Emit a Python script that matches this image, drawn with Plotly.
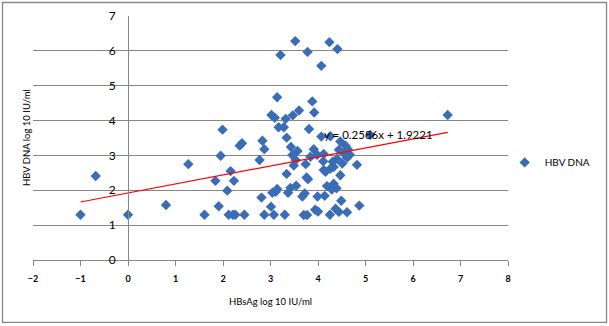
import plotly.graph_objects as go

# HBsAg (log10 IU/ml) vs HBV DNA (log10 IU/ml) per patient
hbsag = [
    -1.00, -0.68, 0.00, 0.80, 1.27, 1.61, 1.84, 1.95, 1.91, 2.09,
    2.16, 2.23, 2.12, 2.21, 2.26, 2.45, 1.99, 2.35, 2.40, 2.83,
    2.87, 2.77, 2.81, 2.87, 3.01, 3.04, 3.11, 3.14, 3.07, 3.30,
    3.34, 3.37, 3.42, 3.21, 3.14, 3.02, 3.09, 3.32, 3.17, 3.28,
    3.34, 3.43, 3.52, 3.78, 4.24, 4.41, 4.07, 3.88, 3.92, 3.60,
    3.47, 3.81, 6.73, 5.10, 3.57, 3.46, 3.49, 3.53, 3.91, 4.07,
    4.26, 4.47, 4.58, 4.63, 4.61, 4.67, 4.82, 4.54, 4.44, 4.40,
    4.51, 4.31, 4.26, 4.33, 4.11, 4.12, 4.16, 3.98, 4.12, 3.84,
    3.74, 3.76, 3.79, 3.54, 3.67, 3.72, 3.99, 4.14, 4.19, 4.33,
    4.39, 4.29, 4.47, 4.49, 4.87, 3.70, 3.77, 3.94, 4.00, 4.25,
    4.37, 4.44, 4.61,
]
hbv_dna = [
    1.30, 2.41, 1.30, 1.58, 2.75, 1.30, 2.27, 2.99, 1.54, 1.99,
    2.55, 2.27, 1.30, 1.30, 1.30, 1.30, 3.74, 3.28, 3.35, 3.42,
    3.18, 2.87, 1.79, 1.30, 1.53, 1.93, 1.96, 2.04, 1.30, 1.30,
    2.47, 1.93, 2.07, 5.88, 4.67, 4.16, 4.08, 4.05, 3.81, 3.81,
    3.51, 3.24, 6.28, 5.97, 6.25, 6.05, 5.57, 4.55, 4.23, 4.29,
    4.15, 3.76, 4.16, 3.59, 3.13, 3.01, 2.71, 2.87, 3.18, 3.54,
    3.55, 3.40, 3.28, 3.18, 2.93, 3.02, 2.73, 3.06, 3.16, 2.90,
    2.77, 2.82, 2.62, 2.67, 2.83, 2.58, 2.53, 3.02, 3.04, 2.96,
    2.75, 2.37, 2.32, 2.13, 1.82, 1.91, 1.82, 1.84, 2.12, 2.19,
    2.06, 2.02, 2.43, 1.70, 1.56, 1.29, 1.29, 1.44, 1.39, 1.30,
    1.47, 1.38, 1.37,
]

# Linear trendline fitted to the series
slope = 0.2586
intercept = 1.9221
trend_x = [min(hbsag), max(hbsag)]
trend_y = [slope * v + intercept for v in trend_x]

x_ticks = list(range(-2, 9))
y_ticks = list(range(0, 8))

grid = "#868686"
blue = "#3A6DB5"
font = "Lato"

fig = go.Figure()
fig.add_trace(go.Scatter(
    x=hbsag, y=hbv_dna, mode="markers", name="HBV DNA",
    marker=dict(symbol="diamond", size=8, color=blue),
))
fig.add_trace(go.Scatter(
    x=trend_x, y=trend_y, mode="lines", showlegend=False,
    line=dict(color="#FF0000", width=1.2),
))

fig.add_annotation(
    x=5.28, y=3.61, xref="x", yref="y", showarrow=False,
    text=f"y = {slope}x + {intercept}",
    font=dict(family=font, size=11.5, color="#000000"),
)
fig.add_annotation(
    x=0.5, y=-0.172, xref="paper", yref="paper", showarrow=False,
    xanchor="center", yanchor="middle",
    text="HBsAg log 10 IU/ml",
    font=dict(family=font, size=9.5, color="#000000"),
)
fig.add_annotation(
    x=-0.0147, y=0.5, xref="paper", yref="paper", showarrow=False,
    xanchor="center", yanchor="middle",
    text="HBV DNA log 10 IU/ml", textangle=-90,
    font=dict(family=font, size=9.5, color="#000000"),
)

# chart frame
fig.add_shape(
    type="rect", xref="paper", yref="paper",
    x0=-0.0642, x1=1.2074, y0=-0.256, y1=1.0553,
    line=dict(color=grid, width=1.3), layer="below",
)

fig.update_layout(
    width=609, height=326,
    margin=dict(l=33, r=101, t=16, b=66, autoexpand=False),
    paper_bgcolor="white", plot_bgcolor="white",
    font=dict(family=font, color="#000000"),
    legend=dict(
        x=0.993, y=0.40, xanchor="left", yanchor="middle",
        font=dict(family=font, size=10, color="#000000"),
        itemwidth=30, bgcolor="rgba(0,0,0,0)",
    ),
    xaxis=dict(
        range=[-2, 8], tickvals=x_ticks, showgrid=False, zeroline=False,
        showline=True, linecolor=grid, linewidth=1,
        ticks="outside", ticklen=5, tickcolor=grid,
        tickfont=dict(family=font, size=9, weight="bold"),
        ticklabelstandoff=5,
    ),
    yaxis=dict(
        range=[0, 7], tickvals=y_ticks, showgrid=True, gridcolor=grid,
        gridwidth=1, zeroline=False, showline=True, linecolor=grid,
        anchor="free", position=0.2, ticks="",
        tickfont=dict(family=font, size=12),
        ticklabelstandoff=10,
    ),
)

fig.write_html("out.html")
